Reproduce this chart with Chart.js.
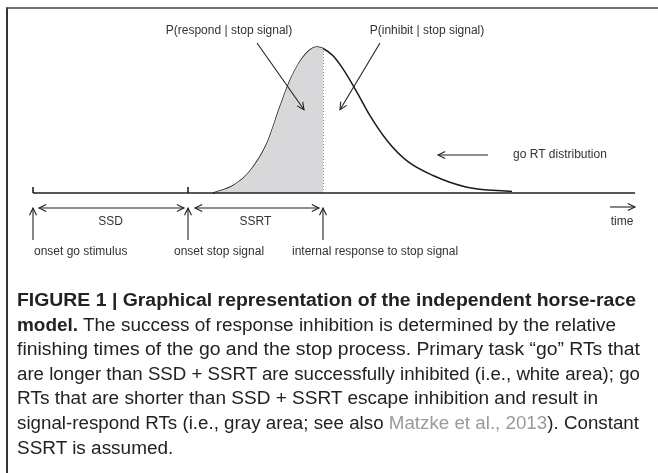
<!DOCTYPE html>
<html>
<head>
<meta charset="utf-8">
<script src="https://cdn.jsdelivr.net/npm/chart.js@4/dist/chart.umd.min.js"></script>
<style>
  body { margin: 0; background: #fff; }
  #wrap { position: relative; width: 658px; height: 473px; overflow: hidden; }
  #frame { position: absolute; left: 6px; top: 7px; width: 660px; height: 480px;
           border-top: 2px solid #6f6f6f; border-left: 2px solid #333; }
  canvas { position: absolute; left: 0; top: 0; }
  .ln { position: absolute; left: 17px; height: 22px; line-height: 22px; white-space: nowrap;
        font: 17.5px "Liberation Sans", Arial, sans-serif; color: #222; }
  .ln span.t { display: inline-block; transform-origin: 0 50%; }
  .ref { color: #9a9a9a; }
</style>
</head>
<body>
<div id="wrap">
  <div id="frame"></div>
  <canvas id="chart" width="658" height="473"></canvas>
  <div id="caption"></div>
</div>
<script>
// go RT distribution, time in arbitrary units from go onset
const curveTime = [180, 200, 217, 234, 247, 257, 267, 277, 284, 290, 300, 310, 324, 337, 354, 374, 400, 434, 479];
const curveDensity = [0, 0.05, 0.15, 0.34, 0.59, 0.77, 0.90, 0.98, 1.0, 0.99, 0.94, 0.85, 0.69, 0.53, 0.36, 0.22, 0.12, 0.04, 0.01];
const eventTimes = [0, 155, 290];
const eventLabels = ['onset go stimulus', 'onset stop signal', 'internal response to stop signal'];
const intervalLabels = ['SSD', 'SSRT'];
const timeMax = 602;

const captionLines = [
    '<b>FIGURE 1 | Graphical representation of the independent horse-race</b>',
    '<b>model.</b> The success of response inhibition is determined by the relative',
    'finishing times of the go and the stop process. Primary task \u201cgo\u201d RTs that',
    'are longer than SSD + SSRT are successfully inhibited (i.e., white area); go',
    'RTs that are shorter than SSD + SSRT escape inhibition and result in',
    'signal-respond RTs (i.e., gray area; see also <span class="ref">Matzke et al., 2013</span>). Constant',
    'SSRT is assumed.'
];
// right edge of each caption line; null = use the common squeeze
const captionRight = [636, 616, 640, 640, 598, 639, null];

const curvePoints = curveTime.map((t, i) => ({ x: t, y: curveDensity[i] }));
const respondPoints = curvePoints.filter(p => p.x <= eventTimes[2]);
const cutDensity = curveDensity[curveTime.indexOf(eventTimes[2])];

function arrowHead(ctx, x1, y1, x2, y2) {
    const a = Math.atan2(y2 - y1, x2 - x1);
    const len = 8, spread = 0.45;
    ctx.beginPath();
    ctx.moveTo(x2 - len * Math.cos(a - spread), y2 - len * Math.sin(a - spread));
    ctx.lineTo(x2, y2);
    ctx.lineTo(x2 - len * Math.cos(a + spread), y2 - len * Math.sin(a + spread));
    ctx.stroke();
}

function arrow(ctx, x1, y1, x2, y2, both) {
    ctx.beginPath();
    ctx.moveTo(x1, y1);
    ctx.lineTo(x2, y2);
    ctx.stroke();
    arrowHead(ctx, x1, y1, x2, y2);
    if (both) arrowHead(ctx, x2, y2, x1, y1);
}

const diagramPlugin = {
    id: 'diagram',
    afterDatasetsDraw(chart) {
        const ctx = chart.ctx;
        const xs = chart.scales.x;
        const ys = chart.scales.y;
        const base = ys.getPixelForValue(0);
        const px = eventTimes.map(t => xs.getPixelForValue(t));
        ctx.save();
        ctx.strokeStyle = '#222';
        ctx.fillStyle = '#333';
        ctx.lineWidth = 1.6;

        // time axis
        ctx.beginPath();
        ctx.moveTo(xs.getPixelForValue(0), base);
        ctx.lineTo(xs.getPixelForValue(timeMax), base);
        ctx.moveTo(px[0], base - 6);
        ctx.lineTo(px[0], base);
        ctx.moveTo(px[1], base - 6);
        ctx.lineTo(px[1], base);
        ctx.stroke();

        ctx.lineWidth = 1.1;
        const ay = base + 15;
        // interval arrows
        arrow(ctx, px[0] + 6, ay, px[1] - 4, ay, true);
        arrow(ctx, px[1] + 7, ay, px[2] - 4, ay, true);
        // event arrows
        px.forEach(x => arrow(ctx, x, base + 47, x, ay));
        // time arrow
        const tx = xs.getPixelForValue(timeMax);
        arrow(ctx, tx - 25, ay - 1, tx, ay - 1);

        // probability arrows
        const yTip = ys.getPixelForValue(0.57);
        arrow(ctx, 257, 43, xs.getPixelForValue(eventTimes[2] - 19), yTip);
        arrow(ctx, 380, 43, xs.getPixelForValue(eventTimes[2] + 17), yTip);
        // go RT distribution arrow
        arrow(ctx, 488, 155, 438, 155);

        ctx.font = '12px "Liberation Sans", Arial, sans-serif';
        ctx.textBaseline = 'middle';
        ctx.textAlign = 'center';
        ctx.fillText('P(respond | stop signal)', 229, 31);
        ctx.fillText('P(inhibit | stop signal)', 427, 31);
        ctx.fillText(intervalLabels[0], (px[0] + px[1]) / 2, base + 29);
        ctx.fillText(intervalLabels[1], (px[1] + px[2]) / 2, base + 29);
        ctx.fillText('time', tx - 13, base + 29);
        ctx.textAlign = 'left';
        ctx.fillText('go RT distribution', 513, 155);
        ctx.fillText(eventLabels[0], px[0] + 1, base + 59);
        ctx.fillText(eventLabels[1], px[1] - 14, base + 59);
        ctx.fillText(eventLabels[2], px[2] - 31, base + 59);
        ctx.restore();
    }
};

new Chart(document.getElementById('chart'), {
    type: 'line',
    data: {
        datasets: [{
            data: respondPoints,
            borderWidth: 0,
            backgroundColor: '#d8d8da',
            fill: 'origin',
            cubicInterpolationMode: 'monotone',
            pointRadius: 0
        }, {
            data: curvePoints,
            borderColor: '#1a1a1a',
            borderWidth: 1.5,
            fill: false,
            cubicInterpolationMode: 'monotone',
            pointRadius: 0,
            clip: false
        }, {
            data: [{ x: eventTimes[2], y: 0 }, { x: eventTimes[2], y: cutDensity }],
            borderColor: '#222',
            borderWidth: 1,
            borderDash: [1, 2],
            fill: false,
            pointRadius: 0
        }]
    },
    options: {
        responsive: false,
        animation: false,
        layout: { padding: { left: 33, right: 23, top: 47, bottom: 280 } },
        plugins: { legend: { display: false }, tooltip: { enabled: false } },
        scales: {
            x: { type: 'linear', min: 0, max: timeMax, display: false },
            y: { min: 0, max: 1, display: false }
        }
    },
    plugins: [diagramPlugin]
});

// caption, one absolutely placed line per row, squeezed to the reference widths
const cap = document.getElementById('caption');
const spans = captionLines.map((html, i) => {
    const ln = document.createElement('div');
    ln.className = 'ln';
    ln.style.top = (290 + i * 24.6) + 'px';
    ln.innerHTML = '<span class="t">' + html + '</span>';
    cap.appendChild(ln);
    return ln.firstChild;
});
const scales = spans.map((sp, i) => captionRight[i] ? (captionRight[i] - 17) / sp.getBoundingClientRect().width : null);
const known = scales.slice(1).filter(s => s);
const common = known.reduce((a, b) => a + b, 0) / known.length;
spans.forEach((sp, i) => {
    sp.style.transform = 'scaleX(' + (scales[i] || common).toFixed(4) + ')';
});
</script>
</body>
</html>
